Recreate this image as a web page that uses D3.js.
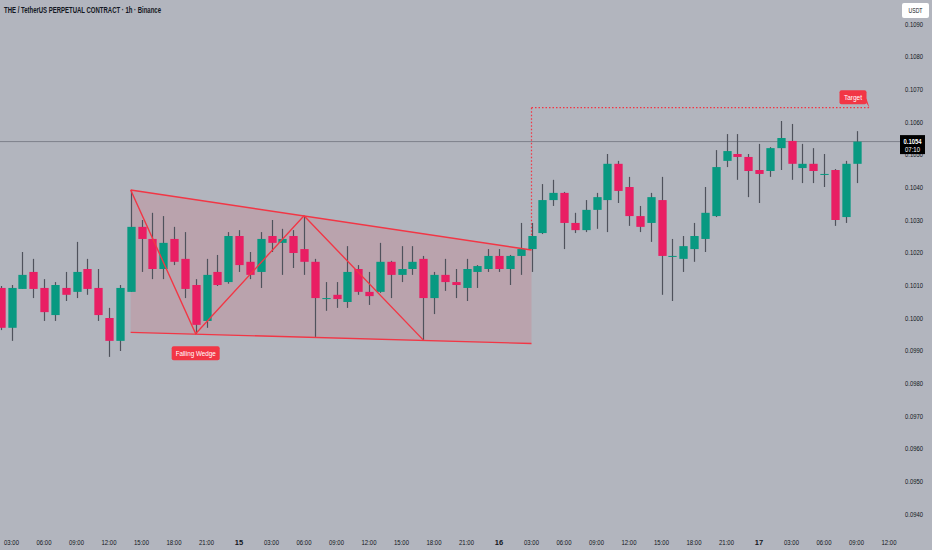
<!DOCTYPE html>
<html><head><meta charset="utf-8">
<script src="https://cdn.jsdelivr.net/npm/d3@7"></script>
<style>html,body{margin:0;padding:0;background:#B2B5BE;}svg{display:block;}</style>
</head><body>
<svg id="chart" width="932" height="550"></svg>
<script>
// ---- data (hourly candles, hour index counted from day 14 00:00) ----
const hours = [2,3,4,5,6,7,8,9,10,11,12,13,14,15,16,17,18,19,20,21,22,23,24,25,26,27,28,29,30,31,32,33,34,35,36,37,38,39,40,41,42,43,44,45,46,47,48,49,50,51,52,53,54,55,56,57,58,59,60,61,62,63,64,65,66,67,68,69,70,71,72,73,74,75,76,77,78,79,80,81];
const opens = [0.10092,0.09970,0.10089,0.10141,0.10092,0.10009,0.10092,0.10080,0.10150,0.10092,0.10000,0.09930,0.10080,0.10279,0.10242,0.10150,0.10242,0.10181,0.10101,0.09991,0.10141,0.10110,0.10251,0.10172,0.10141,0.10251,0.10230,0.10251,0.10211,0.10172,0.10061,0.10071,0.10049,0.10150,0.10080,0.10080,0.10172,0.10132,0.10150,0.10181,0.10061,0.10132,0.10110,0.10092,0.10141,0.10150,0.10190,0.10150,0.10190,0.10211,0.10260,0.10361,0.10383,0.10291,0.10269,0.10331,0.10361,0.10472,0.10401,0.10312,0.10291,0.10361,0.10190,0.10181,0.10211,0.10242,0.10312,0.10481,0.10502,0.10493,0.10453,0.10450,0.10520,0.10542,0.10459,0.10472,0.10441,0.10453,0.10309,0.10472];
const highs = [0.10098,0.10101,0.10202,0.10181,0.10119,0.10110,0.10141,0.10233,0.10181,0.10150,0.10031,0.10101,0.10392,0.10300,0.10322,0.10312,0.10279,0.10263,0.10119,0.10181,0.10193,0.10263,0.10269,0.10202,0.10263,0.10300,0.10273,0.10269,0.10312,0.10181,0.10110,0.10110,0.10220,0.10162,0.10141,0.10230,0.10175,0.10220,0.10220,0.10190,0.10141,0.10181,0.10150,0.10181,0.10162,0.10211,0.10211,0.10193,0.10291,0.10291,0.10410,0.10423,0.10386,0.10322,0.10361,0.10383,0.10502,0.10481,0.10432,0.10343,0.10383,0.10432,0.10242,0.10251,0.10291,0.10401,0.10514,0.10563,0.10563,0.10502,0.10533,0.10523,0.10603,0.10594,0.10533,0.10520,0.10502,0.10456,0.10481,0.10572];
const lows = [0.09963,0.09930,0.10089,0.10061,0.09991,0.09991,0.10052,0.10061,0.10071,0.09991,0.09881,0.09899,0.10080,0.10141,0.10119,0.10119,0.10162,0.10061,0.09951,0.09970,0.10098,0.10105,0.10141,0.10119,0.10092,0.10202,0.10132,0.10153,0.10132,0.09942,0.10022,0.10031,0.10031,0.10071,0.10040,0.10077,0.10061,0.10110,0.10132,0.09933,0.10012,0.10083,0.10061,0.10052,0.10092,0.10141,0.10141,0.10101,0.10132,0.10141,0.10257,0.10343,0.10211,0.10260,0.10263,0.10273,0.10263,0.10352,0.10282,0.10263,0.10233,0.10071,0.10052,0.10141,0.10172,0.10202,0.10309,0.10462,0.10423,0.10370,0.10352,0.10432,0.10453,0.10423,0.10413,0.10413,0.10401,0.10282,0.10291,0.10413];
const closes = [0.09970,0.10092,0.10132,0.10089,0.10018,0.10101,0.10071,0.10141,0.10089,0.10009,0.09930,0.10092,0.10279,0.10242,0.10150,0.10230,0.10172,0.10089,0.09979,0.10132,0.10101,0.10251,0.10162,0.10132,0.10242,0.10230,0.10242,0.10199,0.10172,0.10061,0.10061,0.10058,0.10141,0.10080,0.10067,0.10172,0.10132,0.10150,0.10172,0.10061,0.10132,0.10110,0.10101,0.10150,0.10159,0.10190,0.10150,0.10190,0.10211,0.10251,0.10361,0.10383,0.10291,0.10269,0.10331,0.10370,0.10472,0.10389,0.10312,0.10279,0.10370,0.10190,0.10190,0.10220,0.10251,0.10322,0.10462,0.10511,0.10493,0.10450,0.10441,0.10520,0.10551,0.10472,0.10472,0.10450,0.10441,0.10300,0.10472,0.10540];

const priceTicks = [0.0940,0.0950,0.0960,0.0970,0.0980,0.0990,0.1000,0.1010,0.1020,0.1030,0.1040,0.1050,0.1060,0.1070,0.1080,0.1090];
const timeTickHours = [3,6,9,12,15,18,21,24,27,30,33,36,39,42,45,48,51,54,57,60,63,66,69,72,75,78,81,84];
const timeTickLabels = ["03:00","06:00","09:00","12:00","15:00","18:00","21:00","15","03:00","06:00","09:00","12:00","15:00","18:00","21","16","03:00","06:00","09:00","12:00","15:00","18:00","21:00","17","03:00","06:00","09:00","12:00"];
timeTickLabels[14] = "21:00";

const lastPrice = 0.1054;
const countdown = "07:10";
const titleText = "THE / TetherUS PERPETUAL CONTRACT · 1h · Binance";

// wedge pattern (hour, price)
const wedgeUpper = [[14,0.10392],[51,0.10208]];
const wedgeLower = [[14,0.09956],[51,0.09922]];
const wedgeZigzag = [[14,0.10392],[20,0.09952],[30,0.10313],[41,0.09933]];
const targetPrice = 0.10644;
const targetFromHour = 51;
const targetToHour = 82.2;

// ---- scales ----
const x = d3.scaleLinear().domain([24,72]).range([239,759]);
const y = d3.scaleLinear().domain([0.094,0.109]).range([514,24]);

const UP = "#089981", DOWN = "#E91E63", WICK = "#4f525c", LINE = "#F23645";
const svg = d3.select("#chart");
svg.append("rect").attr("width",932).attr("height",550).attr("fill","#B2B5BE");

const plot = svg.append("g");

// wedge fill
const poly = [wedgeUpper[0], wedgeUpper[1], wedgeLower[1], wedgeLower[0]];
plot.append("path")
  .attr("d", d3.line().x(d=>x(d[0])).y(d=>y(d[1]))(poly) + "Z")
  .attr("fill","rgba(242,54,69,0.14)");

// target dotted lines (behind candles)
plot.append("path")
  .attr("d", `M${x(targetFromHour)},${y(targetPrice)}L${x(targetToHour)},${y(targetPrice)}`)
  .attr("stroke",LINE).attr("stroke-width",1.2).attr("stroke-dasharray","1.5,2").attr("fill","none");
plot.append("path")
  .attr("d", `M${x(targetFromHour)},${y(targetPrice)}L${x(targetFromHour)},${y(wedgeUpper[1][1])}`)
  .attr("stroke",LINE).attr("stroke-width",1.2).attr("stroke-dasharray","1.5,2").attr("fill","none");

// current price line
plot.append("line").attr("x1",0).attr("x2",900).attr("y1",y(lastPrice)).attr("y2",y(lastPrice))
  .attr("stroke","#7d808a").attr("stroke-width",1);

// candles
const candles = hours.map((h,i)=>({h, o:opens[i], hi:highs[i], lo:lows[i], c:closes[i]}));
const bw = 8.3;
const cg = plot.append("g");
cg.selectAll("line.wick").data(candles).join("line").attr("class","wick")
  .attr("x1",d=>Math.round(x(d.h))+0.5).attr("x2",d=>Math.round(x(d.h))+0.5)
  .attr("y1",d=>y(d.hi)).attr("y2",d=>y(d.lo))
  .attr("stroke",WICK).attr("stroke-width",1.2);
cg.selectAll("rect.body").data(candles).join("rect").attr("class","body")
  .attr("x",d=>Math.round(x(d.h))+0.5-bw/2)
  .attr("width",bw)
  .attr("y",d=>y(Math.max(d.o,d.c)))
  .attr("height",d=>Math.max(1, Math.abs(y(d.o)-y(d.c))))
  .attr("fill",d=>d.c>=d.o?UP:DOWN);

// wedge lines
const lg = d3.line().x(d=>x(d[0])).y(d=>y(d[1]));
[wedgeUpper, wedgeLower, wedgeZigzag].forEach(pts=>{
  plot.append("path").attr("d",lg(pts)).attr("fill","none").attr("stroke",LINE).attr("stroke-width",1.4);
});

// labels
function tag(cx, cy, w, h, text, tl){
  const g = svg.append("g");
  g.append("rect").attr("x",cx-w/2).attr("y",cy-h/2).attr("width",w).attr("height",h).attr("rx",2).attr("fill",LINE);
  g.append("text").attr("x",cx).attr("y",cy+2.5).attr("text-anchor","middle")
    .attr("font-family","Liberation Sans, Arial, sans-serif").attr("font-size",7.5).attr("fill","#fff")
    .attr("textLength",tl).attr("lengthAdjust","spacingAndGlyphs").text(text);
  return g;
}
const fwX = x(wedgeZigzag[1][0]), fwY = y(wedgeZigzag[1][1]);
tag(fwX, fwY+19.5, 48, 14, "Falling Wedge", 40);
const tX = x(targetToHour), tY = y(targetPrice);
svg.append("path").attr("d",`M${tX-6},${tY-9}L${tX},${tY}L${tX-3},${tY-9}Z`).attr("fill",LINE);
tag(tX-16.5, tY-10.5, 27, 14, "Target", 18);

// title
svg.append("text").attr("x",4).attr("y",13).attr("font-family","Liberation Sans, Arial, sans-serif")
  .attr("font-size",8.5).attr("font-weight",600).attr("fill","#131722")
  .attr("textLength",157).attr("lengthAdjust","spacingAndGlyphs").text(titleText);

// price axis
const pa = svg.append("g");
pa.selectAll("text").data(priceTicks).join("text")
  .attr("x",923).attr("y",d=>y(d)+2.8).attr("text-anchor","end")
  .attr("font-family","Liberation Sans, Arial, sans-serif").attr("font-size",7.5).attr("fill","#131722")
  .attr("textLength",18).attr("lengthAdjust","spacingAndGlyphs")
  .text(d=>d3.format(".4f")(d));

// USDT box
svg.append("rect").attr("x",902).attr("y",3).attr("width",27).attr("height",15).attr("rx",2).attr("fill","#ffffff");
svg.append("text").attr("x",915.5).attr("y",13.3).attr("text-anchor","middle")
  .attr("font-family","Liberation Sans, Arial, sans-serif").attr("font-size",7.5).attr("fill","#131722")
  .attr("textLength",14).attr("lengthAdjust","spacingAndGlyphs").text("USDT");

// last price box
const ly = y(lastPrice);
svg.append("rect").attr("x",900).attr("y",ly-6.5).attr("width",25).attr("height",19).attr("fill","#000000");
svg.append("text").attr("x",912.5).attr("y",ly+2.3).attr("text-anchor","middle")
  .attr("font-family","Liberation Sans, Arial, sans-serif").attr("font-size",7.5).attr("font-weight",600).attr("fill","#fff")
  .attr("textLength",18).attr("lengthAdjust","spacingAndGlyphs").text(d3.format(".4f")(lastPrice));
svg.append("text").attr("x",912.5).attr("y",ly+10.5).attr("text-anchor","middle")
  .attr("font-family","Liberation Sans, Arial, sans-serif").attr("font-size",7.5).attr("fill","#fff")
  .attr("textLength",15).attr("lengthAdjust","spacingAndGlyphs").text(countdown);

// time axis
const ta = svg.append("g");
ta.selectAll("text").data(timeTickHours).join("text")
  .attr("x",d=>x(d)).attr("y",544.5).attr("text-anchor","middle")
  .attr("font-family","Liberation Sans, Arial, sans-serif").attr("font-size",7.5).attr("fill","#131722")
  .attr("font-weight",(d,i)=>timeTickLabels[i].length<3?600:400)
  .each(function(d,i){
    const t = timeTickLabels[i];
    if (t.length>3) d3.select(this).attr("textLength",15).attr("lengthAdjust","spacingAndGlyphs");
  })
  .text((d,i)=>timeTickLabels[i]);
</script>
</body></html>
